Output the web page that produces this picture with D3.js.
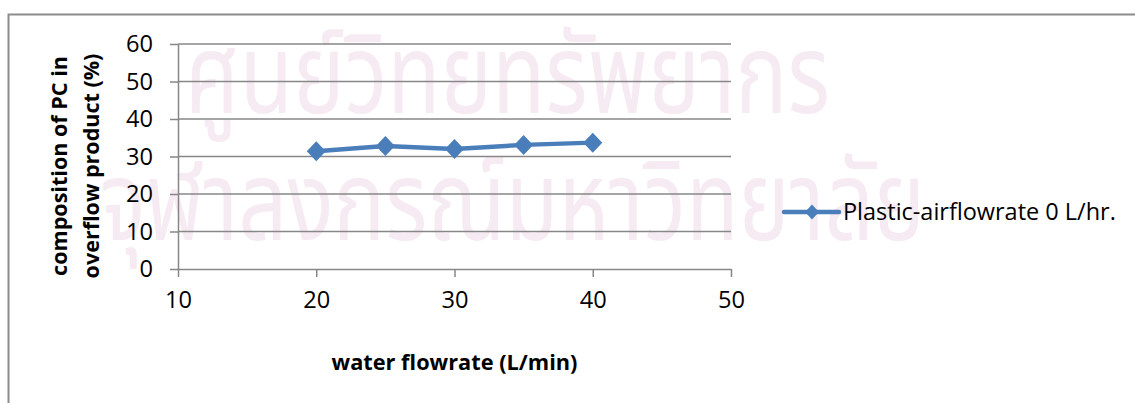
<!DOCTYPE html>
<html>
<head>
<meta charset="utf-8">
<script src="https://cdn.jsdelivr.net/npm/d3@7"></script>
<style>
  html, body { margin: 0; padding: 0; background: #ffffff; }
  svg { display: block; }
  text { font-family: "Open Sans", "Liberation Sans", sans-serif; fill: #000; }
</style>
</head>
<body>
<svg id="chart" width="1135" height="403"></svg>
<script>
// Composition of PC in overflow product vs. water flowrate
const flowrates = [20, 25, 30, 35, 40];
const pcPercent = [31.4, 32.8, 32.0, 33.1, 33.7];
const seriesName = "Plastic-airflowrate 0 L/hr.";
const xTicks = [10, 20, 30, 40, 50];
const yTicks = [0, 10, 20, 30, 40, 50, 60];
const xTitle = "water flowrate (L/min)";
const yTitleLines = ["composition of PC in", "overflow product (%)"];
const watermarkLines = ["ศูนย์วิทยทรัพยากร", "จุฬาลงกรณ์มหาวิทยาลัย"];

const svg = d3.select("#chart");
const W = 1135, H = 403;
const plot = { left: 178, right: 731, top: 44, bottom: 269 };
const gridColor = "#878787";
const lineColor = "#4a7ebb";

const x = d3.scaleLinear().domain([10, 50]).range([plot.left, plot.right]);
const y = d3.scaleLinear().domain([0, 60]).range([plot.bottom, plot.top]);

// size a text node so its rendered width equals target
function fitWidth(node, target, base = 20) {
  const sel = d3.select(node);
  sel.style("font-size", base + "px");
  const w = node.getComputedTextLength();
  const fs = base * target / w;
  sel.style("font-size", fs + "px");
  return fs;
}

// outer frame (top and left edges visible)
svg.append("path")
  .attr("d", `M8.5,${H} L8.5,14.5 L${W},14.5`)
  .attr("fill", "none").attr("stroke", "#8c8c8c").attr("stroke-width", 2);

// faint background watermark, vertically stretched
const wmFont = "'Noto Sans Thai', 'Loma', 'Garuda', 'Norasi', 'DejaVu Sans', sans-serif";
const wmSpec = [
  { x: 185, y: 113, width: 645 },
  { x: 100, y: 240, width: 825 }
];
const wm = svg.append("g").attr("class", "watermark");
watermarkLines.forEach((t, i) => {
  const el = wm.append("text").text(t)
    .attr("transform", `translate(${wmSpec[i].x},${wmSpec[i].y}) scale(1,1.28)`)
    .style("font-family", wmFont)
    .style("fill", "#f7ebf3");
  fitWidth(el.node(), wmSpec[i].width, 60);
});

// horizontal gridlines
svg.append("g").selectAll("line")
  .data(yTicks.filter(d => d > 0))
  .join("line")
  .attr("x1", plot.left).attr("x2", plot.right)
  .attr("y1", d => y(d)).attr("y2", d => y(d))
  .attr("stroke", gridColor).attr("stroke-width", 1.5);

// y axis
const yAxis = svg.append("g")
  .attr("transform", `translate(${plot.left},0)`)
  .call(d3.axisLeft(y).tickValues(yTicks).tickSize(8).tickPadding(17).tickSizeOuter(0));
yAxis.select(".domain").attr("stroke", gridColor).attr("stroke-width", 1.5);
yAxis.selectAll(".tick line").attr("stroke", gridColor).attr("stroke-width", 1.5);

// x axis
const xAxis = svg.append("g")
  .attr("transform", `translate(0,${plot.bottom})`)
  .call(d3.axisBottom(x).tickValues(xTicks).tickSize(8).tickPadding(14).tickSizeOuter(0));
xAxis.select(".domain").attr("stroke", gridColor).attr("stroke-width", 1.5);
xAxis.selectAll(".tick line").attr("stroke", gridColor).attr("stroke-width", 1.5);

// tick label size from the width of a two-digit label
const probe = svg.append("text").text("60");
const tickFs = fitWidth(probe.node(), 27);
probe.remove();
svg.selectAll(".tick text")
  .style("font-family", "'Open Sans', 'Liberation Sans', sans-serif")
  .style("font-size", tickFs + "px").attr("fill", "#000");

// axis titles
const xt = svg.append("text").text(xTitle)
  .attr("x", (plot.left + plot.right) / 2).attr("y", 370)
  .attr("text-anchor", "middle").style("font-weight", "bold");
fitWidth(xt.node(), 246);

const yTitleX = [67, 99];
const yTitleLen = [220, 225];
yTitleLines.forEach((t, i) => {
  const el = svg.append("text").text(t)
    .attr("text-anchor", "middle").style("font-weight", "bold")
    .attr("transform", `translate(${yTitleX[i]},166) rotate(-90)`);
  fitWidth(el.node(), yTitleLen[i]);
});

// series line and markers
const pts = flowrates.map((f, i) => [x(f), y(pcPercent[i])]);
svg.append("path")
  .datum(pts)
  .attr("d", d3.line())
  .attr("fill", "none").attr("stroke", lineColor)
  .attr("stroke-width", 4.5).attr("stroke-linejoin", "round");

const diamond = (rx, ry) => `M0,${-ry} L${rx},0 L0,${ry} L${-rx},0 Z`;
svg.append("g").selectAll("path")
  .data(pts)
  .join("path")
  .attr("d", diamond(9.5, 10))
  .attr("transform", d => `translate(${d[0]},${d[1]})`)
  .attr("fill", lineColor);

// legend
const lg = svg.append("g").attr("transform", "translate(784,212)");
lg.append("line").attr("x1", 0).attr("x2", 55).attr("y1", 0).attr("y2", 0)
  .attr("stroke", lineColor).attr("stroke-width", 4.5).attr("stroke-linecap", "round");
lg.append("path").attr("d", diamond(7, 7.5))
  .attr("transform", "translate(28,0)").attr("fill", lineColor);
const lt = lg.append("text").text(seriesName).attr("x", 59).attr("y", 7.5);
fitWidth(lt.node(), 273);
</script>
</body>
</html>
